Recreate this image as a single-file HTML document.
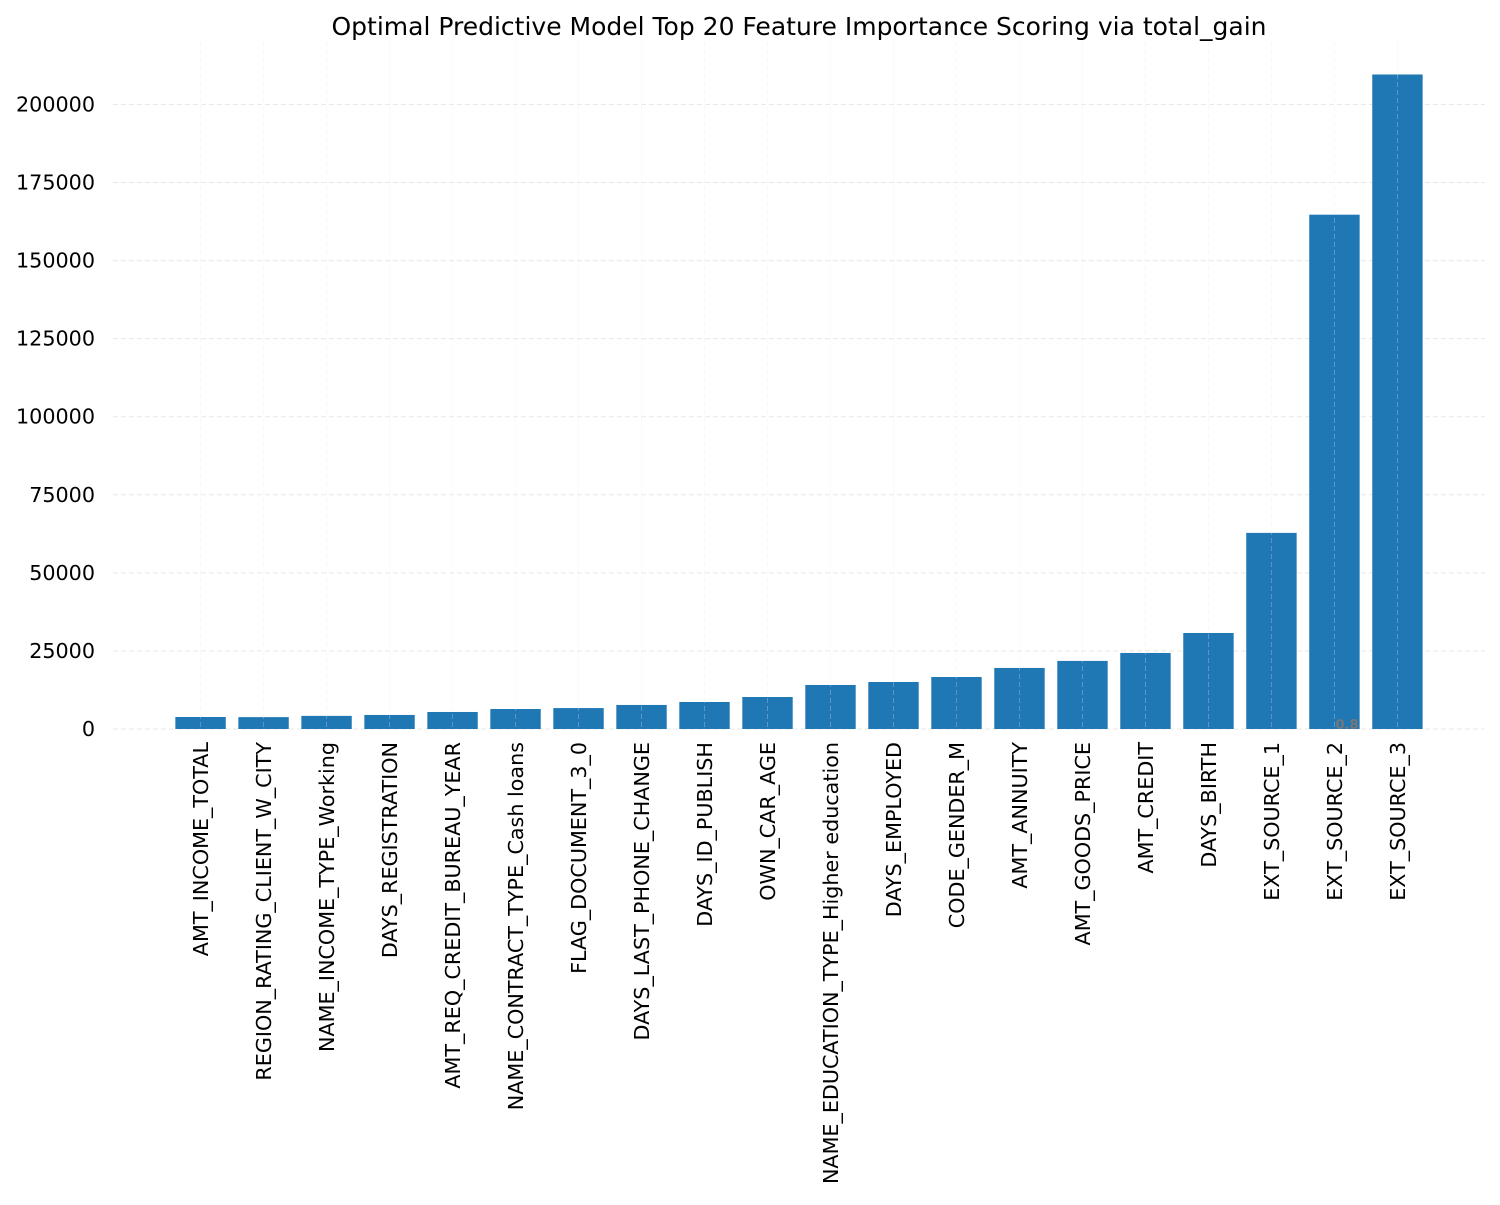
<!DOCTYPE html>
<html><head><meta charset="utf-8"><style>
html,body{margin:0;padding:0;background:#fff;}
svg text{font-family:"DejaVu Sans","Liberation Sans",sans-serif;}
</style></head><body>
<svg id="chart" width="1500" height="1200" xmlns="http://www.w3.org/2000/svg">
<text x="799" y="35" text-anchor="middle" font-size="25" fill="#000">Optimal Predictive Model Top 20 Feature Importance Scoring via total_gain</text>
<g id="grid"></g><g id="bars"></g><g id="gridTop"></g><g id="yticks"></g><g id="xticks"></g>
<text x="1347" y="729" text-anchor="middle" font-size="13" font-weight="bold" fill="#777">0.8</text>
</svg>
<script>
const categories=["AMT_INCOME_TOTAL","REGION_RATING_CLIENT_W_CITY","NAME_INCOME_TYPE_Working","DAYS_REGISTRATION","AMT_REQ_CREDIT_BUREAU_YEAR","NAME_CONTRACT_TYPE_Cash loans","FLAG_DOCUMENT_3_0","DAYS_LAST_PHONE_CHANGE","DAYS_ID_PUBLISH","OWN_CAR_AGE","NAME_EDUCATION_TYPE_Higher education","DAYS_EMPLOYED","CODE_GENDER_M","AMT_ANNUITY","AMT_GOODS_PRICE","AMT_CREDIT","DAYS_BIRTH","EXT_SOURCE_1","EXT_SOURCE_2","EXT_SOURCE_3"];
const values=[3850,3800,4200,4500,5450,6400,6700,7700,8650,10250,14100,15050,16650,19550,21800,24350,30750,62800,164700,209600];
const yTicks=[0,25000,50000,75000,100000,125000,150000,175000,200000];
const NS="http://www.w3.org/2000/svg";
const L=113,R=1485,T=42,B=729;
const xmin=-1.39,xmax=20.39,ymax=220000;
const x=v=>L+(v-xmin)/(xmax-xmin)*(R-L);
const y=v=>B-v/ymax*(B-T);
const bw=x(0.8)-x(0);
function mk(tag,attrs,parent){const e=document.createElementNS(NS,tag);for(const k in attrs)e.setAttribute(k,attrs[k]);document.getElementById(parent).appendChild(e);return e;}
yTicks.forEach(t=>{
  const l=mk('line',{x1:L,x2:R,y1:y(t),y2:y(t),stroke:'#e8e8e8','stroke-dasharray':'5,3','stroke-width':1},'grid');
  
  
  const tx=mk('text',{x:95,y:y(t)+7,'text-anchor':'end','font-size':20.7,fill:'#000'},'yticks');
  tx.textContent=String(t);
  
  
});
categories.forEach((c,i)=>{
  const r=mk('rect',{x:x(i)-bw/2,y:y(values[i]),width:bw,height:B-y(values[i]),fill:'#1f77b4'},'bars');
  
  
  const g=mk('line',{x1:x(i),x2:x(i),y1:T,y2:B,stroke:'#e8e8e8','stroke-opacity':0.3,'stroke-dasharray':'5,3'},'gridTop');
  
  
  const tx=mk('text',{x:0,y:0,'text-anchor':'end','font-size':20.7,fill:'#000',transform:`translate(${x(i)+7.5},${B+13}) rotate(-90)`},'xticks');
  tx.textContent=c;
  
  
});
</script>
</body></html>
